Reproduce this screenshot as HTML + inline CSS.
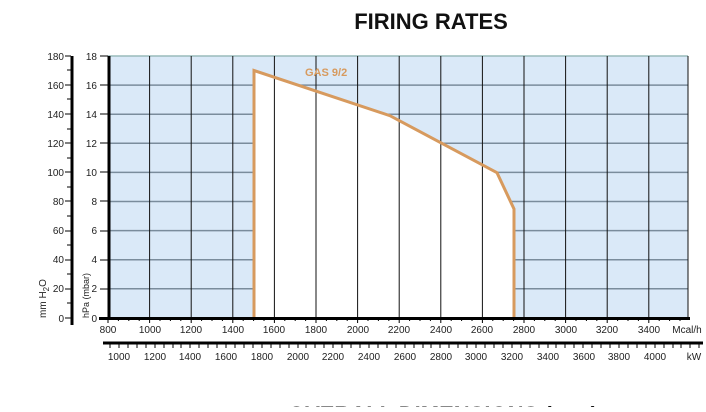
<!DOCTYPE html>
<html><head><meta charset="utf-8"><style>
body{margin:0;background:#fff;width:706px;height:407px;overflow:hidden;font-family:"Liberation Sans",Arial,sans-serif}
</style></head><body>
<svg width="706" height="407" xmlns="http://www.w3.org/2000/svg" font-family="Liberation Sans, Arial, sans-serif">
<text x="431" y="29" font-size="22" font-weight="bold" text-anchor="middle" fill="#111">FIRING RATES</text>
<rect x="108" y="56" width="580" height="262" fill="#dae9f8"/>
<g id="hg" stroke="#7a8c9c" stroke-width="1.5">
<line x1="108" y1="56" x2="688" y2="56" stroke="#9bb"/>
<line x1="108" y1="85.1" x2="688" y2="85.1"/><line x1="108" y1="114.2" x2="688" y2="114.2"/>
<line x1="108" y1="143.3" x2="688" y2="143.3"/><line x1="108" y1="172.4" x2="688" y2="172.4"/>
<line x1="108" y1="201.5" x2="688" y2="201.5"/><line x1="108" y1="230.6" x2="688" y2="230.6"/>
<line x1="108" y1="259.7" x2="688" y2="259.7"/><line x1="108" y1="288.8" x2="688" y2="288.8"/>
</g>
<polygon points="254,70.5 390,115.7 497,172.7 514,209 514,318 254,318" fill="#fff"/>
<g stroke="#111" stroke-width="1">
<line x1="149.6" y1="56" x2="149.6" y2="318"/><line x1="191.2" y1="56" x2="191.2" y2="318"/>
<line x1="232.8" y1="56" x2="232.8" y2="318"/><line x1="274.4" y1="56" x2="274.4" y2="318"/>
<line x1="316" y1="56" x2="316" y2="318"/><line x1="357.6" y1="56" x2="357.6" y2="318"/>
<line x1="399.2" y1="56" x2="399.2" y2="318"/><line x1="440.8" y1="56" x2="440.8" y2="318"/>
<line x1="482.4" y1="56" x2="482.4" y2="318"/><line x1="524" y1="56" x2="524" y2="318"/>
<line x1="565.6" y1="56" x2="565.6" y2="318"/><line x1="607.2" y1="56" x2="607.2" y2="318"/>
<line x1="648.8" y1="56" x2="648.8" y2="318"/><line x1="688" y1="56" x2="688" y2="318"/>
</g>
<polyline points="254,318 254,70.5 390,115.7 497,172.7 514,209 514,318" fill="none" stroke="#d79a5e" stroke-width="3"/>
<text x="305" y="76" font-size="11" font-weight="bold" fill="#d79a5e">GAS 9/2</text>
<line x1="109" y1="56" x2="109" y2="320" stroke="#000" stroke-width="3"/>
<line x1="99" y1="318.5" x2="690" y2="318.5" stroke="#000" stroke-width="3"/>
<line x1="72" y1="56" x2="72" y2="325" stroke="#000" stroke-width="3"/>
<line x1="103" y1="343" x2="703" y2="343" stroke="#000" stroke-width="3"/>
<g font-size="10" fill="#222" text-anchor="end">
<text x="64" y="60">180</text><text x="64" y="89">160</text><text x="64" y="118">140</text><text x="64" y="147">120</text><text x="64" y="176">100</text><text x="64" y="205">80</text><text x="64" y="234">60</text><text x="64" y="263">40</text><text x="64" y="292">20</text><text x="64" y="322">0</text>
<text x="97" y="60">18</text><text x="97" y="89">16</text><text x="97" y="118">14</text><text x="97" y="147">12</text><text x="97" y="176">10</text><text x="97" y="205">8</text><text x="97" y="234">6</text><text x="97" y="263">4</text><text x="97" y="292">2</text><text x="97" y="322">0</text>
</g>
<g stroke="#000" stroke-width="1">
<path d="M65 56h6M65 85h6M65 114h6M65 143h6M65 172h6M65 201h6M65 231h6M65 260h6M65 289h6M65 318h6M67 70h4M67 99h4M67 129h4M67 158h4M67 187h4M67 216h4M67 245h4M67 274h4M67 303h4"/>
<path d="M100 56h8M100 85h8M100 114h8M100 143h8M100 172h8M100 201h8M100 231h8M100 260h8M100 289h8"/>
</g>
<text transform="translate(46,318) rotate(-90)" font-size="10" fill="#222">mm H<tspan font-size="8" dy="3">2</tspan><tspan dy="-3">O</tspan></text>
<text transform="translate(89,318) rotate(-90)" font-size="9" fill="#222">hPa (mbar)</text>
<g font-size="10" fill="#222" text-anchor="middle">
<text x="108" y="333">800</text><text x="150" y="333">1000</text><text x="191" y="333">1200</text><text x="233" y="333">1400</text><text x="274" y="333">1600</text><text x="316" y="333">1800</text><text x="358" y="333">2000</text><text x="399" y="333">2200</text><text x="441" y="333">2400</text><text x="482" y="333">2600</text><text x="524" y="333">2800</text><text x="566" y="333">3000</text><text x="607" y="333">3200</text><text x="649" y="333">3400</text><text x="687" y="333">Mcal/h</text>
<text x="119" y="360">1000</text><text x="155" y="360">1200</text><text x="190" y="360">1400</text><text x="226" y="360">1600</text><text x="262" y="360">1800</text><text x="298" y="360">2000</text><text x="333" y="360">2200</text><text x="369" y="360">2400</text><text x="405" y="360">2600</text><text x="441" y="360">2800</text><text x="476" y="360">3000</text><text x="512" y="360">3200</text><text x="548" y="360">3400</text><text x="584" y="360">3600</text><text x="619" y="360">3800</text><text x="655" y="360">4000</text><text x="694" y="360">kW</text>
</g>
<path stroke="#000" stroke-width="1" d="M108 318v5M118.4 318v3M128.8 318v3M139.2 318v3M149.6 318v5M160 318v3M170.4 318v3M180.8 318v3M191.2 318v5M201.6 318v3M212 318v3M222.4 318v3M232.8 318v5M243.2 318v3M253.6 318v3M264 318v3M274.4 318v5M284.8 318v3M295.2 318v3M305.6 318v3M316 318v5M326.4 318v3M336.8 318v3M347.2 318v3M357.6 318v5M368 318v3M378.4 318v3M388.8 318v3M399.2 318v5M409.6 318v3M420 318v3M430.4 318v3M440.8 318v5M451.2 318v3M461.6 318v3M472 318v3M482.4 318v5M492.8 318v3M503.2 318v3M513.6 318v3M524 318v5M534.4 318v3M544.8 318v3M555.2 318v3M565.6 318v5M576 318v3M586.4 318v3M596.8 318v3M607.2 318v5M617.6 318v3M628 318v3M638.4 318v3M648.8 318v5M659.2 318v3M669.6 318v3M680 318v3"/>
<path stroke="#000" stroke-width="1" d="M110 343v5M119 343v5M128 343v5M137 343v5M146 343v5M155 343v5M164 343v5M173 343v5M181 343v5M190 343v5M199 343v5M208 343v5M217 343v5M226 343v5M235 343v5M244 343v5M253 343v5M262 343v5M271 343v5M280 343v5M289 343v5M298 343v5M306 343v5M315 343v5M324 343v5M333 343v5M342 343v5M351 343v5M360 343v5M369 343v5M378 343v5M387 343v5M396 343v5M405 343v5M414 343v5M423 343v5M431 343v5M440 343v5M449 343v5M458 343v5M467 343v5M476 343v5M485 343v5M494 343v5M503 343v5M512 343v5M521 343v5M530 343v5M539 343v5M548 343v5M556 343v5M565 343v5M574 343v5M583 343v5M592 343v5M601 343v5M610 343v5M619 343v5M628 343v5M637 343v5M646 343v5M655 343v5M664 343v5M673 343v5M681 343v5M690 343v5M699 343v5"/>
<text x="443" y="422" font-size="22" font-weight="bold" text-anchor="middle" fill="#111">OVERALL DIMENSIONS (mm)</text>
</svg>
</body></html>
